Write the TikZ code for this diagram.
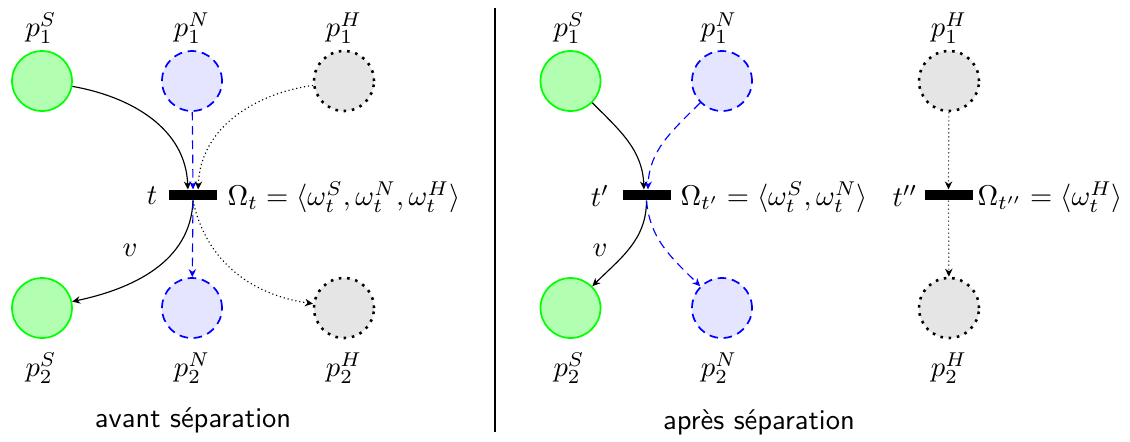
\documentclass[tikz,border=0pt]{standalone}
\usetikzlibrary{arrows.meta}
\tikzset{
  placeS/.style={circle, draw=green, fill=green!30, semithick, minimum size=21pt, inner sep=0pt},
  placeN/.style={circle, draw=blue, fill=blue!10, semithick, dash pattern=on 3pt off 2pt, minimum size=21pt, inner sep=0pt},
  placeH/.style={circle, draw=black, fill=black!10, line width=0.9pt, dotted, minimum size=21pt, inner sep=0pt},
  trans/.style={rectangle, fill=black, minimum width=16.8pt, minimum height=3.5pt, inner sep=0pt},
  tiparrow/.style={-{Stealth[length=2.8pt,width=2.6pt,inset=0.9pt]}},
  arcS/.style={tiparrow, black, thin},
  arcN/.style={tiparrow, blue, thin, dash pattern=on 3pt off 2pt},
  arcH/.style={tiparrow, black, thin, densely dotted},
  lbl/.style={inner sep=0pt},
  captext/.style={inner sep=0pt, font=\sffamily},
}
\begin{document}
\begin{tikzpicture}[x=0.35pt, y=-0.35pt]
\useasboundingbox (0,0) rectangle (1130,441);

% ---- left panel: avant separation ----
\node[placeS] (p1S) at (42,81) {};
\node[placeN] (p1N) at (192,81) {};
\node[placeH] (p1H) at (344,81) {};
\node[lbl] (lp1S) at (41,28) {$p_1^S$};
\node[lbl] (lp1N) at (192,28) {$p_1^N$};
\node[lbl] (lp1H) at (344,28) {$p_1^H$};

\node[trans] (t) at (193,195) {};
\node[lbl] (lt) at (152,196) {$t$};
\node[lbl, anchor=west] (Wt) at (227,197) {$\Omega_t = \langle\omega_t^S,\omega_t^N,\omega_t^H\rangle$};

\node[placeS] (p2S) at (42,308) {};
\node[placeN] (p2N) at (192,308) {};
\node[placeH] (p2H) at (344,308) {};
\node[lbl] (lp2S) at (41,368) {$p_2^S$};
\node[lbl] (lp2N) at (192,368) {$p_2^N$};
\node[lbl] (lp2H) at (344,368) {$p_2^H$};
\node[lbl] (v1) at (130,250) {$v$};
\node[captext] (cap1) at (193,420) {avant séparation};

\draw[arcS] (p1S) to[out=-10,in=92] ([xshift=-1.8pt]t.north);
\draw[arcN] (p1N) -- (t.north);
\draw[arcH] (p1H) to[out=188,in=88] ([xshift=1.8pt]t.north);
\draw[arcS] (t.south) to[out=-92,in=12] (p2S);
\draw[arcN] (t.south) -- (p2N);
\draw[arcH] (t.south) to[out=-78,in=172] (p2H);

% ---- separator ----
\coordinate (sepTop) at (495,8);
\coordinate (sepBot) at (495,432);
\draw[thin] (sepTop) -- (sepBot);

% ---- right panel: apres separation ----
\node[placeS] (q1S) at (570.5,81) {};
\node[placeN] (q1N) at (722,81) {};
\node[placeH] (q1H) at (949,81) {};
\node[lbl] (lq1S) at (569,28) {$p_1^S$};
\node[lbl] (lq1N) at (719,28) {$p_1^N$};
\node[lbl] (lq1H) at (949,28) {$p_1^H$};

\node[trans] (tp) at (646.5,195) {};
\node[lbl] (ltp) at (600,196) {$t'$};
\node[lbl, anchor=west] (Wtp) at (680,197) {$\Omega_{t'} = \langle\omega_t^S,\omega_t^N\rangle$};
\node[trans] (tpp) at (948.5,195) {};
\node[lbl] (ltpp) at (905,196) {$t''$};
\node[lbl, anchor=west] (Wtpp) at (977,197) {$\Omega_{t''} = \langle\omega_t^H\rangle$};

\node[placeS] (q2S) at (570.5,308) {};
\node[placeN] (q2N) at (722,308) {};
\node[placeH] (q2H) at (949,308) {};
\node[lbl] (lq2S) at (569,368) {$p_2^S$};
\node[lbl] (lq2N) at (719,368) {$p_2^N$};
\node[lbl] (lq2H) at (949,368) {$p_2^H$};
\node[lbl] (v2) at (600,250) {$v$};
\node[captext] (cap2) at (759,422) {après séparation};

\draw[arcS] (q1S) to[out=-45,in=92] ([xshift=-0.9pt]tp.north);
\draw[arcN] (q1N) to[out=-135,in=88] ([xshift=0.5pt]tp.north);
\draw[arcH] (q1H) -- (tpp.north);
\draw[arcS] (tp.south) to[out=-90,in=45] (q2S);
\draw[arcN] (tp.south) to[out=-85,in=135] (q2N);
\draw[arcH] (tpp.south) -- (q2H);
\end{tikzpicture}
\end{document}
